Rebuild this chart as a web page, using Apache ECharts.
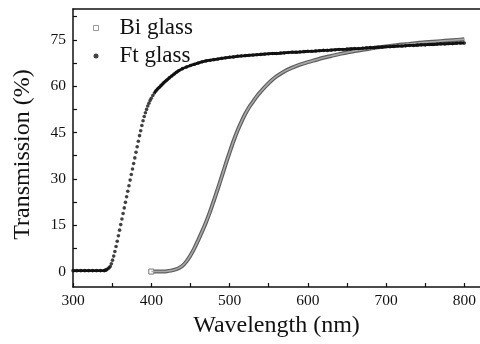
<!DOCTYPE html>
<html>
<head>
<meta charset="utf-8">
<script src="https://cdn.jsdelivr.net/npm/echarts@6/dist/echarts.min.js"></script>
<style>
html,body{margin:0;padding:0;background:#fff;}
#c{width:480px;height:344px;}
</style>
</head>
<body>
<div id="c"></div>
<script>
// ---- data ----
var xTickLabels = [300, 400, 500, 600, 700, 800];
var xTicksAll = [300, 350, 400, 450, 500, 550, 600, 650, 700, 750, 800];
var yTickLabels = [0, 15, 30, 45, 60, 75];
var yTicksAll = [0, 7.5, 15, 22.5, 30, 37.5, 45, 52.5, 60, 67.5, 75, 82.5];

var ftWavelength = [300,305,310,315,320,325,330,335,340,341,342,343,344.5,346,347.5,349,350.5,
  352,353.5,355,356.5,358,359.5,361,362.5,364,365.5,367,368.5,370,371.5,373,374.5,376,377.5,
  379,380.5,382,383.5,385,386.5,388,389.5,391,392.5,394,395.5,397,398.5,400,402,404,406,408,410,412,414,416,418,420,
  423,426,429,432,435,440,445,450,455,460,465,470,475,480,485,490,495,500,505,510,
  515,520,525,530,535,540,545,550,555,560,565,570,575,580,585,590,595,600,605,610,
  615,620,625,630,635,640,645,650,655,660,665,670,675,680,685,690,695,700,705,710,
  715,720,725,730,735,740,745,750,755,760,765,770,775,780,785,790,795,800];
var ftTransmission = [0.3,0.3,0.3,0.3,0.3,0.3,0.3,0.3,0.3,0.4,0.5,0.6,0.9,1.2,1.6,2.5,3.7,
  5.0,6.5,8.1,9.8,11.6,13.4,15.2,17.0,18.8,20.6,22.4,24.2,26.0,27.8,29.6,31.4,33.2,35.0,
  36.8,38.6,40.4,42.2,44.0,45.6,47.3,48.8,50.2,51.4,52.5,53.6,54.5,55.4,56.1,57.0,57.8,58.5,59.1,59.6,60.1,60.6,61.1,61.6,62.0,
  62.7,63.3,63.9,64.5,65.0,65.7,66.2,66.7,67.1,67.5,67.9,68.2,68.4,68.6,68.8,69.0,69.2,69.4,69.5,69.7,
  69.8,69.9,70.0,70.1,70.2,70.3,70.4,70.5,70.6,70.6,70.7,70.8,70.9,71.0,71.0,71.1,71.2,71.3,71.3,71.4,
  71.5,71.6,71.6,71.7,71.8,71.9,71.9,72.0,72.1,72.2,72.2,72.3,72.4,72.5,72.5,72.6,72.7,72.8,72.8,72.9,
  73.0,73.0,73.1,73.2,73.2,73.3,73.4,73.4,73.5,73.5,73.6,73.7,73.7,73.8,73.8,73.9,74.0,74.0];

var biWavelength = [400,405,410,415,420,425,430,435,440,445,450,455,460,465,470,475,480,485,490,495,
  500,505,510,515,520,525,530,535,540,545,550,555,560,570,580,590,600,610,620,630,
  640,650,660,670,680,690,700,710,720,730,740,750,760,770,780,790,800];
var biTransmission = [0.0,0.0,0.0,0.0,0.1,0.3,0.6,1.1,1.9,3.3,5.2,7.5,10.2,13.0,16.0,19.3,23.0,26.8,30.7,34.7,
  38.5,42.2,45.5,48.4,51.0,53.2,55.0,56.8,58.3,59.7,61.0,62.2,63.2,64.8,66.0,67.0,67.8,68.5,69.2,69.8,
  70.4,70.9,71.4,71.8,72.2,72.6,72.9,73.2,73.5,73.7,74.0,74.2,74.4,74.6,74.8,75.0,75.2];

// ---- build options ----
function pairs(xs, ys){ var o=[]; for(var i=0;i<xs.length;i++){ o.push([xs[i], ys[i]]); } return o; }
var biData = pairs(biWavelength, biTransmission);
var biDataMarked = biData.map(function(p, i){
  return i === 0 ? {value: p, symbol: 'rect', symbolSize: 5,
    itemStyle: {color: '#fff', borderColor: '#777', borderWidth: 1}} : {value: p};
});
var ftData = pairs(ftWavelength, ftTransmission);
// dense (flat) parts of the Ft curve, where the measured dots merge into a solid trace
var ftFlatLow = ftData.filter(function(p){ return p[0] <= 343; });
var ftFlatHigh = ftData.filter(function(p){ return p[0] >= 404; });

var FONT = '"Liberation Serif", "Times New Roman", serif';
var chart = echarts.init(document.getElementById('c'), null, {renderer:'canvas'});
chart.setOption({
  animation: false,
  backgroundColor: '#fff',
  grid: {left: 73, top: 9, right: -2, bottom: 57, containLabel: false},
  legend: {
    orient: 'vertical', left: 88, top: 11, itemWidth: 5, itemHeight: 5, itemGap: 4,
    textStyle: {fontFamily: FONT, fontSize: 23, color: '#111', lineHeight: 24, padding: [0,0,0,16]},
    data: [
      {name: 'Bi glass', icon: 'rect', itemStyle: {color: '#fff', borderColor: '#999', borderWidth: 1}},
      {name: 'Ft glass', icon: 'circle', itemStyle: {color: '#111'}}
    ]
  },
  xAxis: [{
    type: 'value', min: 300, max: 820, position: 'bottom',
    name: 'Wavelength (nm)', nameLocation: 'middle', nameGap: 25,
    nameTextStyle: {fontFamily: FONT, fontSize: 24, color: '#111'},
    axisLine: {show: true, onZero: false, lineStyle: {color: '#111', width: 1.5}},
    axisTick: {show: true, inside: true, length: 4, customValues: xTicksAll, lineStyle: {color: '#111', width: 1.2}},
    axisLabel: {customValues: xTickLabels, fontFamily: FONT, fontSize: 15.5, color: '#111', margin: 6},
    splitLine: {show: false}
  }, {
    type: 'value', min: 300, max: 820, position: 'top',
    axisLine: {show: true, onZero: false, lineStyle: {color: '#111', width: 1.5}},
    axisTick: {show: false}, axisLabel: {show: false}, splitLine: {show: false}
  }],
  yAxis: [{
    type: 'value', min: -5, max: 85, position: 'left',
    name: 'Transmission (%)', nameLocation: 'middle', nameGap: 38, nameRotate: 90,
    nameTextStyle: {fontFamily: FONT, fontSize: 24, color: '#111', padding: [0, 13, 0, 0]},
    axisLine: {show: true, onZero: false, lineStyle: {color: '#111', width: 1.5}},
    axisTick: {show: true, inside: true, length: 4, customValues: yTicksAll, lineStyle: {color: '#111', width: 1.2}},
    axisLabel: {customValues: yTickLabels, fontFamily: FONT, fontSize: 15.5, color: '#111', margin: 7},
    splitLine: {show: false}
  }],
  series: [
    {
      name: 'Bi glass', type: 'line', data: biDataMarked, smooth: 0.3, showSymbol: true, symbol: 'none',
      lineStyle: {color: '#5e5e5e', width: 4}, z: 2
    },
    {
      name: 'Bi glass inner', type: 'line', data: biData, smooth: 0.3, showSymbol: false, symbol: 'none',
      lineStyle: {color: '#a8a8a8', width: 1.6}, z: 3
    },
    {
      name: 'Ft glass trace low', type: 'line', data: ftFlatLow, showSymbol: false, symbol: 'none',
      lineStyle: {color: '#111', width: 2.6}, z: 4
    },
    {
      name: 'Ft glass trace high', type: 'line', data: ftFlatHigh, smooth: 0.3, showSymbol: false, symbol: 'none',
      lineStyle: {color: '#111', width: 2.8}, z: 4
    },
    {
      name: 'Ft glass', type: 'scatter', data: ftData, symbol: 'circle', symbolSize: 3.6,
      itemStyle: {color: '#111'}, z: 5
    }
  ]
});
</script>
</body>
</html>
